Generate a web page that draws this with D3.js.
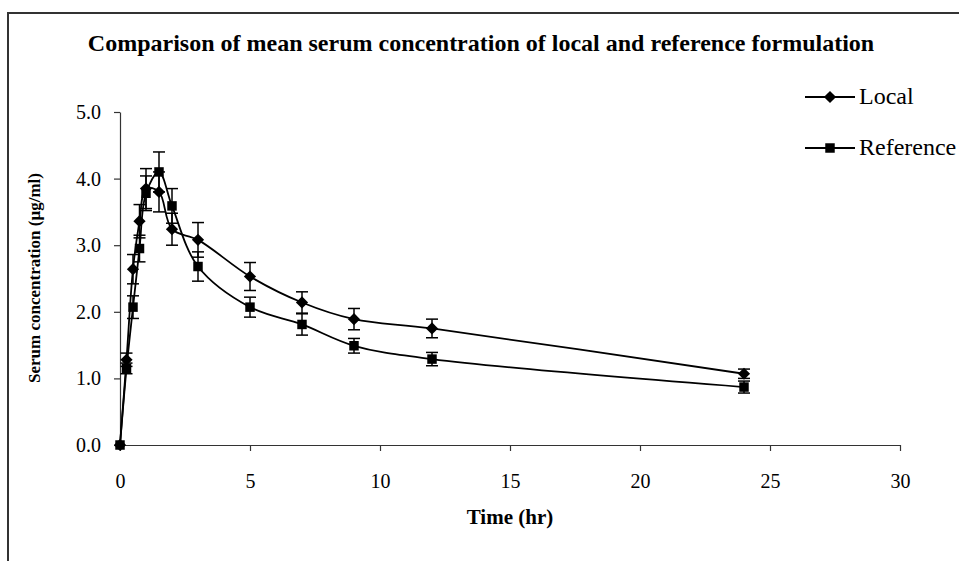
<!DOCTYPE html>
<html>
<head>
<meta charset="utf-8">
<script src="https://cdn.jsdelivr.net/npm/d3@7"></script>
<style>
  body { margin: 0; background: #fff; }
  svg { display: block; }
  text { font-family: "Liberation Serif", "Times New Roman", serif; fill: #000; }
</style>
</head>
<body>
<svg id="chart" width="959" height="561"></svg>
<script>
// sampling times (hr)
const times = [0, 0.25, 0.5, 0.75, 1, 1.5, 2, 3, 5, 7, 9, 12, 24];
// mean serum concentration (ug/ml) and SD
const localMean = [0, 1.28, 2.64, 3.36, 3.85, 3.80, 3.24, 3.08, 2.53, 2.14, 1.89, 1.75, 1.07];
const localSD   = [0, 0.10, 0.22, 0.25, 0.30, 0.30, 0.24, 0.26, 0.21, 0.16, 0.16, 0.14, 0.07];
const refMean   = [0, 1.15, 2.07, 2.95, 3.78, 4.10, 3.59, 2.68, 2.07, 1.81, 1.49, 1.29, 0.87];
const refSD     = [0, 0.08, 0.17, 0.20, 0.26, 0.30, 0.26, 0.22, 0.15, 0.16, 0.11, 0.10, 0.09];

const xTicks = [0, 5, 10, 15, 20, 25, 30];
const yTicks = [0, 1, 2, 3, 4, 5];

const svg = d3.select("#chart");

// outer chart frame (runs off the right and bottom)
svg.append("path")
    .attr("d", "M8,565 L8,13 L965,13")
    .attr("fill", "none")
    .attr("stroke", "#333")
    .attr("stroke-width", 2);

const x = d3.scaleLinear().domain([0, 30]).range([120, 900]);
const y = d3.scaleLinear().domain([0, 5]).range([445, 112]);

// axes
const xAxis = svg.append("g")
    .attr("transform", "translate(0," + y(0) + ")")
    .call(d3.axisBottom(x).tickValues(xTicks).tickSize(6).tickSizeOuter(0).tickFormat(d3.format("d")));
const yAxis = svg.append("g")
    .attr("transform", "translate(" + x(0) + ",0)")
    .call(d3.axisLeft(y).tickValues(yTicks).tickSize(6).tickSizeOuter(0).tickFormat(d3.format(".1f")));

[xAxis, yAxis].forEach(function(a) {
    a.selectAll("path, line").attr("stroke", "#333").attr("stroke-width", 1.2);
    a.selectAll("text")
        .style("font-family", "'Liberation Serif', serif")
        .style("font-size", "20px")
        .attr("fill", "#000");
});
xAxis.selectAll("text").attr("y", 43).attr("dy", 0);
yAxis.selectAll("text").attr("x", -19);

// title and axis titles
svg.append("text")
    .attr("x", 481).attr("y", 51)
    .attr("text-anchor", "middle")
    .style("font-size", "24px").style("font-weight", "bold")
    .text("Comparison of mean serum concentration of local and reference formulation");

svg.append("text")
    .attr("x", 510).attr("y", 524)
    .attr("text-anchor", "middle")
    .style("font-size", "21px").style("font-weight", "bold")
    .text("Time (hr)");

svg.append("text")
    .attr("transform", "translate(40,278) rotate(-90)")
    .attr("text-anchor", "middle")
    .style("font-size", "17px").style("font-weight", "bold")
    .text("Serum concentration (µg/ml)");

const series = [
    { name: "Local", mean: localMean, sd: localSD, symbol: d3.symbolDiamond2, size: 95 },
    { name: "Reference", mean: refMean, sd: refSD, symbol: d3.symbolSquare, size: 90 }
];

const line = d3.line()
    .x(function(d) { return x(d[0]); })
    .y(function(d) { return y(d[1]); })
    .curve(d3.curveCatmullRom.alpha(0.5));

series.forEach(function(s) {
    const pts = times.map(function(t, i) { return [t, s.mean[i], s.sd[i]]; });
    const g = svg.append("g");

    g.append("path")
        .datum(pts)
        .attr("d", line)
        .attr("fill", "none")
        .attr("stroke", "#000")
        .attr("stroke-width", 1.8);

    // error bars
    const eb = g.selectAll(".eb").data(pts.filter(function(d) { return d[2] > 0; }))
        .enter().append("g");
    eb.append("line")
        .attr("x1", function(d) { return x(d[0]); })
        .attr("x2", function(d) { return x(d[0]); })
        .attr("y1", function(d) { return y(d[1] - d[2]); })
        .attr("y2", function(d) { return y(d[1] + d[2]); })
        .attr("stroke", "#000").attr("stroke-width", 1.5);
    [-1, 1].forEach(function(sign) {
        eb.append("line")
            .attr("x1", function(d) { return x(d[0]) - 6; })
            .attr("x2", function(d) { return x(d[0]) + 6; })
            .attr("y1", function(d) { return y(d[1] + sign * d[2]); })
            .attr("y2", function(d) { return y(d[1] + sign * d[2]); })
            .attr("stroke", "#000").attr("stroke-width", 1.5);
    });

    g.selectAll(".mk").data(pts).enter().append("path")
        .attr("transform", function(d) { return "translate(" + x(d[0]) + "," + y(d[1]) + ")"; })
        .attr("d", d3.symbol().type(s.symbol).size(s.size))
        .attr("fill", "#000");
});

// legend
const legend = svg.append("g");
series.forEach(function(s, i) {
    const ly = 97 + i * 51;
    legend.append("line")
        .attr("x1", 805).attr("x2", 855).attr("y1", ly).attr("y2", ly)
        .attr("stroke", "#000").attr("stroke-width", 1.8);
    legend.append("path")
        .attr("transform", "translate(830," + ly + ")")
        .attr("d", d3.symbol().type(s.symbol).size(s.size))
        .attr("fill", "#000");
    legend.append("text")
        .attr("x", 859).attr("y", ly + 7)
        .style("font-size", "24px")
        .text(s.name);
});
</script>
</body>
</html>
